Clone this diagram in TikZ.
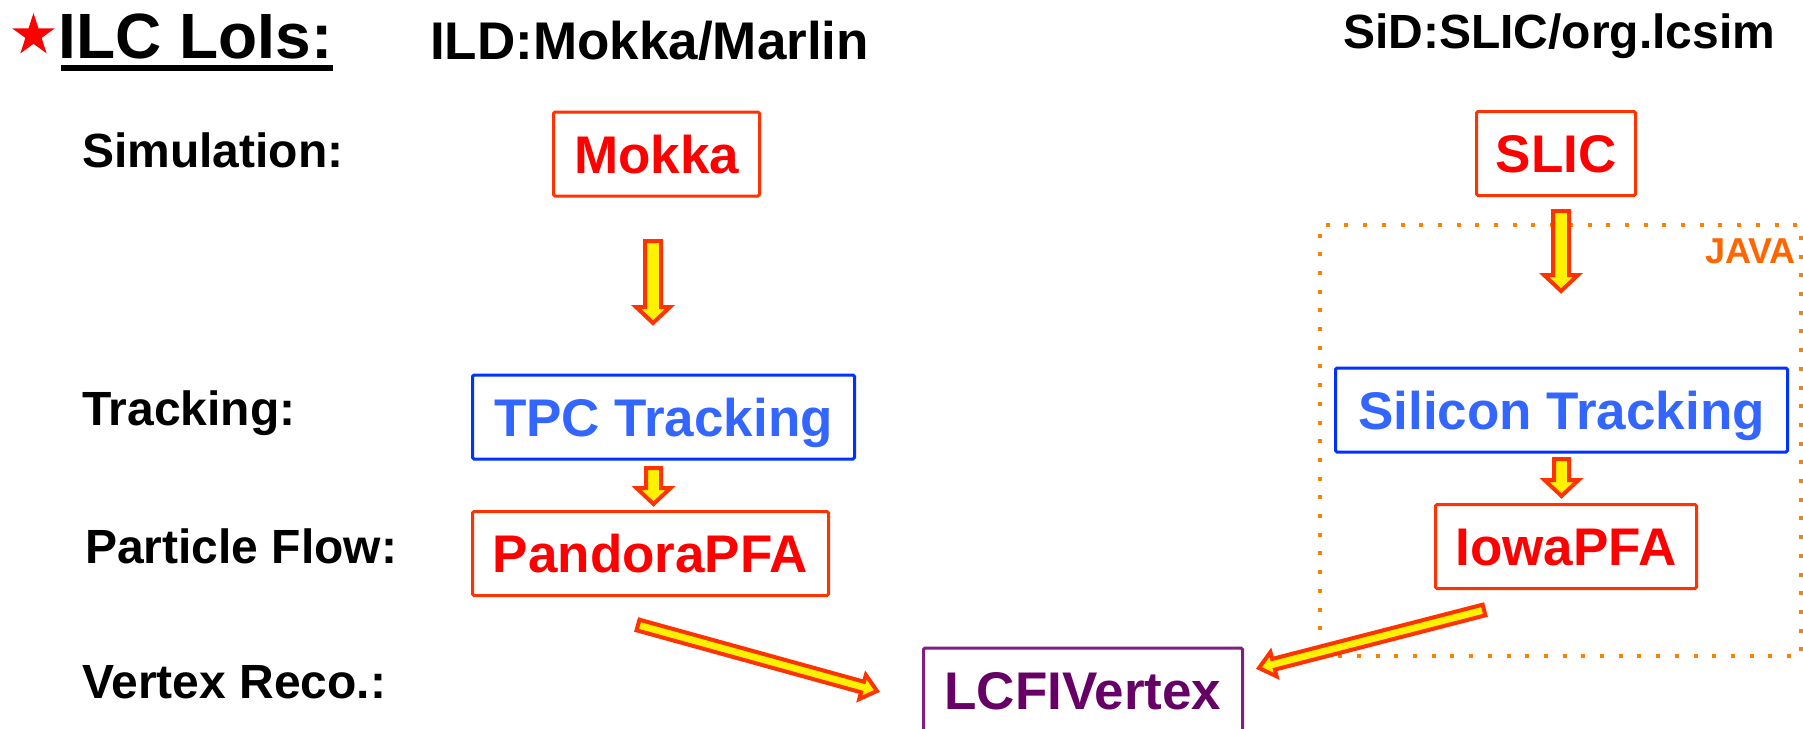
\documentclass[tikz,border=0pt]{standalone}
\usepackage{fontspec}
\setmainfont{Liberation Sans}
\usepackage{tikz}
\usetikzlibrary{calc,shapes.geometric}
\definecolor{boxred}{HTML}{FF3300}
\definecolor{boxblue}{HTML}{0033FF}
\definecolor{txtblue}{HTML}{3366FF}
\definecolor{boxpurple}{HTML}{7F1F7F}
\definecolor{txtpurple}{HTML}{660066}
\definecolor{javaorange}{HTML}{FF8000}
\definecolor{javatext}{HTML}{FF6600}
\tikzstyle{box}=[draw=boxred, line width=3pt, rounded corners=1.5pt, inner sep=0pt, minimum height=84pt, text height=38pt, text depth=0pt, font=\bfseries\fontsize{53}{60}\selectfont]
\tikzstyle{redbox}=[box, text=red]
\tikzstyle{bluebox}=[box, draw=boxblue, text=txtblue]
\tikzstyle{purplebox}=[box, draw=boxpurple, text=txtpurple]
\tikzstyle{stage}=[anchor=base west, inner sep=0pt, font=\bfseries\fontsize{48}{56}\selectfont]
\tikzstyle{header}=[anchor=base west, inner sep=0pt, font=\bfseries\fontsize{53}{60}\selectfont]
\tikzstyle{javabox}=[draw=javaorange, line width=4pt, dash pattern=on 4pt off 14.7pt, inner sep=0pt, minimum width=481.5pt, minimum height=431pt]
\tikzset{blockarrow/.style n args={3}{draw=boxred, fill=yellow, line width=4pt, line join=miter,
	to path={($(\tikztostart)!#1!90:(\tikztotarget)$)
		-- ($(\tikztotarget)!#3!(\tikztostart)!#1!90:(\tikztotarget)$)
		-- ($(\tikztotarget)!#3!(\tikztostart)!#2!90:(\tikztotarget)$)
		-- (\tikztotarget)
		-- ($(\tikztotarget)!#3!(\tikztostart)!#2!-90:(\tikztotarget)$)
		-- ($(\tikztotarget)!#3!(\tikztostart)!#1!-90:(\tikztotarget)$)
		-- ($(\tikztostart)!#1!-90:(\tikztotarget)$) -- cycle}}}

\begin{document}
\begin{tikzpicture}[x=1pt,y=-1pt]
	\useasboundingbox (0,0) rectangle (1803,728);
	\begin{scope}
		\node (star) at (33.5,35.3)[star, star points=5, star point ratio=2.618, fill=red, inner sep=0pt, minimum size=44.6pt] {};
		\node (title) at (58.5,58)[anchor=base west, inner sep=0pt, font=\bfseries\fontsize{64}{72}\selectfont] {ILC LoIs:};
		\node (ild) at (430,59)[header] {ILD:Mokka/Marlin};
		\node (sid) at (1343,48)[header, font=\bfseries\fontsize{48}{56}\selectfont] {SiD:SLIC/org.lcsim};
	\end{scope}
	\begin{scope}
		\node (sim) at (82,167)[stage] {Simulation:};
		\node (trk) at (82,425)[stage] {Tracking:};
		\node (pf) at (85,563)[stage] {Particle Flow:};
		\node (vtx) at (82,698)[stage] {Vertex Reco.:};
	\end{scope}
	\begin{scope}
		\node (java) at (1560.25,440.5)[javabox] {};
		\node (javalbl) at ([xshift=-7pt, yshift=-40pt]java.north east)[anchor=base east, inner sep=0pt, text=javatext, font=\bfseries\fontsize{36}{42}\selectfont] {JAVA};
	\end{scope}
	\begin{scope}
		\node (mokka) at (656.5,154)[redbox, minimum width=206pt] {Mokka};
		\node (tpc) at (663.5,417)[bluebox, minimum width=382pt] {TPC Tracking};
		\node (pandora) at (650.5,553.5)[redbox, minimum width=356pt] {PandoraPFA};
		\node (slic) at (1556,153.5)[redbox, minimum width=159pt] {SLIC};
		\node (silicon) at (1561.5,410)[bluebox, minimum width=452pt] {Silicon Tracking};
		\node (iowa) at (1566,546.5)[redbox, minimum width=261pt] {IowaPFA};
		\node (lcfi) at (1083,690)[purplebox, minimum width=319pt] {LCFIVertex};
	\end{scope}
	\begin{scope}
		\draw[line width=6.5pt] ([xshift=2pt, yshift=-10pt]title.base west) -- ([yshift=-10pt]title.base east);
		\coordinate (mokka-out) at (653,241);
		\coordinate (tpc-in) at (653,323);
		\coordinate (tpc-out) at (653.5,468);
		\coordinate (pandora-in) at (653.5,504);
		\coordinate (slic-out) at (1561,211);
		\coordinate (silicon-in) at (1561,291);
		\coordinate (silicon-out) at (1561.5,459);
		\coordinate (iowa-in) at (1561.5,496);
		\coordinate (pandora-out) at (638,625);
		\coordinate (lcfi-left) at (877,691);
		\coordinate (iowa-out) at (1484,610);
		\coordinate (lcfi-right) at (1259,668);
		\path (mokka-out) edge[blockarrow={8pt}{17pt}{16pt}] (tpc-in);
		\path (tpc-out) edge[blockarrow={7.5pt}{17pt}{16pt}] (pandora-in);
		\path (slic-out) edge[blockarrow={8pt}{17pt}{16pt}] (silicon-in);
		\path (silicon-out) edge[blockarrow={7.5pt}{17pt}{16pt}] (iowa-in);
		\path (pandora-out) edge[blockarrow={5.5pt}{12.5pt}{15pt}, line width=4pt] (lcfi-left);
		\path (iowa-out) edge[blockarrow={5.5pt}{12.5pt}{15pt}, line width=4pt] (lcfi-right);
	\end{scope}
\end{tikzpicture}
\end{document}
